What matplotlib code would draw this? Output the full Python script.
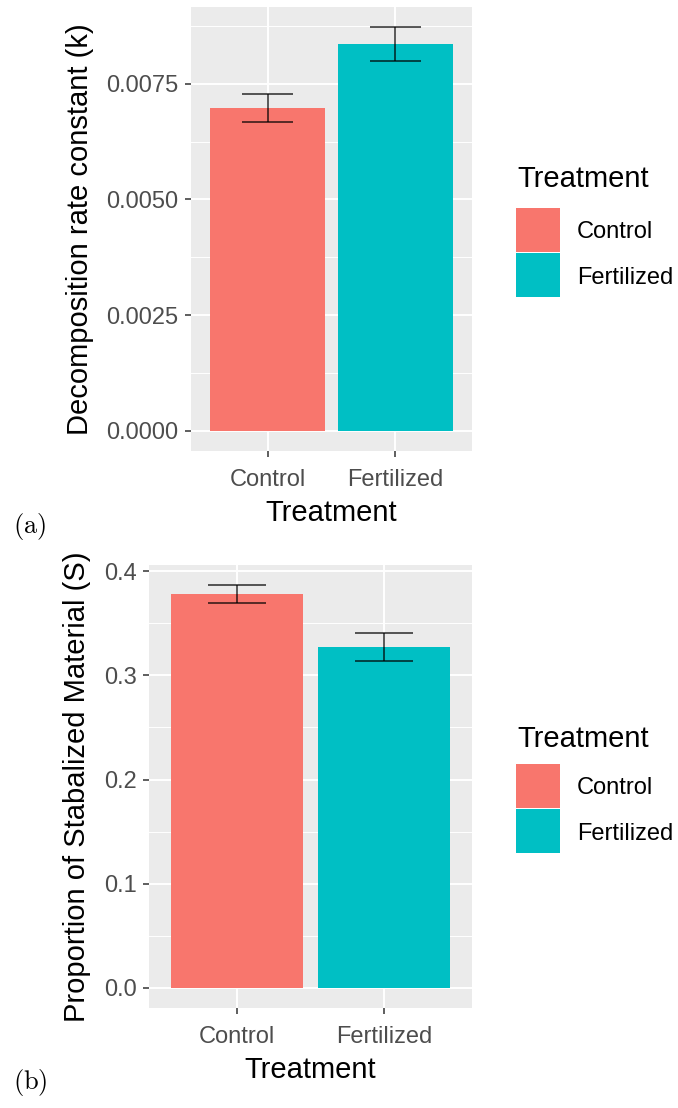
import matplotlib
matplotlib.use('Agg')
import matplotlib.pyplot as plt
from matplotlib.patches import Rectangle
from matplotlib.ticker import FixedLocator, FormatStrFormatter

plt.rcParams['font.family'] = ['Liberation Sans', 'DejaVu Sans']
plt.rcParams['mathtext.fontset'] = 'cm'

# data
treatments = ['Control', 'Fertilized']
colors = ['#F8766D', '#00BFC4']

k_mean = [0.00698, 0.00836]
k_se = [0.00030, 0.00036]

s_mean = [0.378, 0.3276]
s_se = [0.0086, 0.0134]

k_ticks = [0.0, 0.0025, 0.0050, 0.0075]
k_minor = [0.00125, 0.00375, 0.00625, 0.00875]
s_ticks = [0.0, 0.1, 0.2, 0.3, 0.4]
s_minor = [0.05, 0.15, 0.25, 0.35]

W, H = 678, 1108
fig = plt.figure(figsize=(W / 100, H / 100), dpi=100)


def panel(rect, means, ses, ylab, ticks, minor, fmt):
    # rect in pixels: left, top, right, bottom
    l, t, r, b = rect
    ax = fig.add_axes([l / W, 1 - b / H, (r - l) / W, (b - t) / H])
    ax.set_facecolor('#EBEBEB')
    x = list(range(1, len(means) + 1))
    ax.bar(x, means, width=0.9, color=colors, zorder=2)
    lo = [m - s for m, s in zip(means, ses)]
    hi = [m + s for m, s in zip(means, ses)]
    ax.vlines(x, lo, hi, color='black', alpha=0.7, lw=1.3, zorder=3)
    ax.hlines(lo, [v - 0.2 for v in x], [v + 0.2 for v in x], color='black', alpha=0.7, lw=1.3, zorder=3)
    ax.hlines(hi, [v - 0.2 for v in x], [v + 0.2 for v in x], color='black', alpha=0.7, lw=1.3, zorder=3)
    top = max(hi)
    ax.set_xlim(0.4, len(means) + 0.6)
    ax.set_ylim(-0.05 * top, 1.05 * top)
    ax.set_xticks(x)
    ax.set_xticklabels(treatments)
    ax.yaxis.set_major_locator(FixedLocator(ticks))
    ax.yaxis.set_minor_locator(FixedLocator(minor))
    ax.yaxis.set_major_formatter(FormatStrFormatter(fmt))
    ax.grid(which='major', color='white', lw=1.4, zorder=0)
    ax.grid(which='minor', axis='y', color='white', lw=0.7, zorder=0)
    ax.set_axisbelow(True)
    for s in ax.spines.values():
        s.set_visible(False)
    ax.tick_params(which='major', length=4, width=1.1, color='#333333',
                   labelsize=17, labelcolor='#4D4D4D')
    ax.tick_params(axis='x', pad=9)
    ax.tick_params(axis='y', pad=5)
    ax.tick_params(which='minor', length=0)
    ax.set_xlabel('Treatment', fontsize=21, labelpad=6)
    ax.set_ylabel(ylab, fontsize=21, labelpad=9)
    return ax


def legend(title_base, key_top):
    fig.text(517 / W, 1 - title_base / H, 'Treatment', fontsize=21,
             va='baseline', ha='left')
    kh = 45
    for i, (c, name) in enumerate(zip(colors, treatments)):
        y0 = key_top + i * kh
        fig.patches.append(Rectangle((516 / W, 1 - (y0 + kh) / H), 44 / W, (kh - 1) / H,
                                     transform=fig.transFigure, facecolor=c,
                                     edgecolor='none'))
        fig.text(577 / W, 1 - (y0 + kh / 2 + 3) / H, name, fontsize=17,
                 va='center', ha='left')


panel((191, 7, 472, 451), k_mean, k_se, 'Decomposition rate constant (k)',
      k_ticks, k_minor, '%.4f')
legend(187, 207)
fig.text(13 / W, 1 - 527 / H, r'$\mathrm{(a)}$', fontsize=19, va='center', ha='left')

panel((149, 565, 472, 1008), s_mean, s_se, 'Proportion of Stabalized Material (S)',
      s_ticks, s_minor, '%.1f')
legend(747, 763)
fig.text(13 / W, 1 - 1083 / H, r'$\mathrm{(b)}$', fontsize=19, va='center', ha='left')

fig.savefig('out.png', dpi=100, facecolor='white')
